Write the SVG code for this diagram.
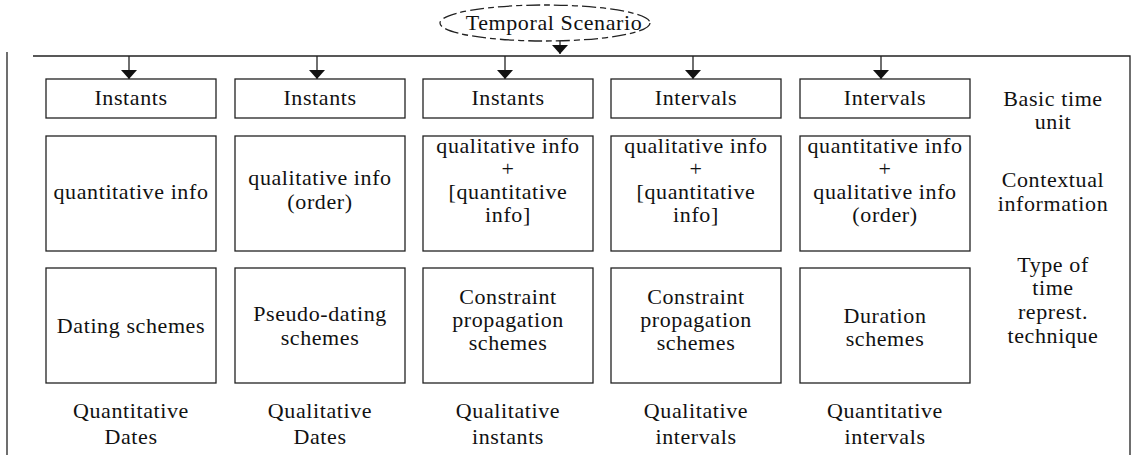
<svg xmlns="http://www.w3.org/2000/svg" width="1137" height="455" viewBox="0 0 1137 455">
<style>
  text { font-family: "Liberation Serif", "DejaVu Serif", "Times New Roman", serif; font-size: 22px; letter-spacing: 0.6px; fill: #111; text-anchor: middle; }
  .box { fill: none; stroke: #222; stroke-width: 1.3; }
  .line { fill: none; stroke: #222; stroke-width: 1.3; }
</style>
<defs>
  <marker id="ah" markerWidth="10" markerHeight="16" refX="9" refY="8" orient="auto" markerUnits="userSpaceOnUse">
    <path d="M0,0 L9,8 L0,16 Z" fill="#111"/>
  </marker>
</defs>
<rect width="1137" height="455" fill="#fff"/>

<g id="frame">
  <path class="line" d="M7,455 V52 M33,56 H1130 V455"/>
</g>

<g id="connectors">
  <line class="line" x1="560" y1="41" x2="560" y2="54" marker-end="url(#ah)"/>
  <line class="line" x1="129" y1="56" x2="129" y2="79" marker-end="url(#ah)"/>
  <line class="line" x1="317" y1="56" x2="317" y2="79" marker-end="url(#ah)"/>
  <line class="line" x1="505" y1="56" x2="505" y2="79" marker-end="url(#ah)"/>
  <line class="line" x1="693" y1="56" x2="693" y2="79" marker-end="url(#ah)"/>
  <line class="line" x1="881" y1="56" x2="881" y2="79" marker-end="url(#ah)"/>
</g>

<g id="temporal-scenario">
  <ellipse class="box" cx="545" cy="23" rx="105" ry="18" stroke-dasharray="14 4 6 4"/>
  <text x="554" y="30">Temporal Scenario</text>
</g>

<!-- Row 1: basic time unit -->
<g id="unit-1"><rect class="box" x="46" y="79" width="170" height="39"/><text x="131" y="105">Instants</text></g>
<g id="unit-2"><rect class="box" x="235" y="79" width="170" height="39"/><text x="320" y="105">Instants</text></g>
<g id="unit-3"><rect class="box" x="423" y="79" width="170" height="39"/><text x="508" y="105">Instants</text></g>
<g id="unit-4"><rect class="box" x="611" y="79" width="170" height="39"/><text x="696" y="105">Intervals</text></g>
<g id="unit-5"><rect class="box" x="800" y="79" width="170" height="39"/><text x="885" y="105">Intervals</text></g>

<!-- Row 2: contextual information -->
<g id="info-1"><rect class="box" x="46" y="136" width="170" height="115"/><text x="131" y="199">quantitative info</text></g>
<g id="info-2"><rect class="box" x="235" y="136" width="170" height="115"/>
  <text x="320" y="185">qualitative info</text><text x="320" y="209">(order)</text></g>
<g id="info-3"><rect class="box" x="423" y="136" width="170" height="115"/>
  <text x="508" y="153">qualitative info</text><text x="508" y="176">+</text><text x="508" y="199">[quantitative</text><text x="508" y="222">info]</text></g>
<g id="info-4"><rect class="box" x="611" y="136" width="170" height="115"/>
  <text x="696" y="153">qualitative info</text><text x="696" y="176">+</text><text x="696" y="199">[quantitative</text><text x="696" y="222">info]</text></g>
<g id="info-5"><rect class="box" x="800" y="136" width="170" height="115"/>
  <text x="885" y="153">quantitative info</text><text x="885" y="176">+</text><text x="885" y="199">qualitative info</text><text x="885" y="222">(order)</text></g>

<!-- Row 3: technique -->
<g id="tech-1"><rect class="box" x="46" y="268" width="170" height="115"/><text x="131" y="333">Dating schemes</text></g>
<g id="tech-2"><rect class="box" x="235" y="268" width="170" height="115"/>
  <text x="320" y="321">Pseudo-dating</text><text x="320" y="345">schemes</text></g>
<g id="tech-3"><rect class="box" x="423" y="268" width="170" height="115"/>
  <text x="508" y="304">Constraint</text><text x="508" y="327">propagation</text><text x="508" y="350">schemes</text></g>
<g id="tech-4"><rect class="box" x="611" y="268" width="170" height="115"/>
  <text x="696" y="304">Constraint</text><text x="696" y="327">propagation</text><text x="696" y="350">schemes</text></g>
<g id="tech-5"><rect class="box" x="800" y="268" width="170" height="115"/>
  <text x="885" y="323">Duration</text><text x="885" y="346">schemes</text></g>

<!-- Bottom labels -->
<g id="result-1"><text x="131" y="418">Quantitative</text><text x="131" y="444">Dates</text></g>
<g id="result-2"><text x="320" y="418">Qualitative</text><text x="320" y="444">Dates</text></g>
<g id="result-3"><text x="508" y="418">Qualitative</text><text x="508" y="444">instants</text></g>
<g id="result-4"><text x="696" y="418">Qualitative</text><text x="696" y="444">intervals</text></g>
<g id="result-5"><text x="885" y="418">Quantitative</text><text x="885" y="444">intervals</text></g>

<!-- Row labels -->
<g id="label-unit"><text x="1053" y="106">Basic time</text><text x="1053" y="129">unit</text></g>
<g id="label-info"><text x="1053" y="187">Contextual</text><text x="1053" y="211">information</text></g>
<g id="label-tech"><text x="1053" y="272">Type of</text><text x="1053" y="295">time</text><text x="1053" y="319">represt.</text><text x="1053" y="343">technique</text></g>
</svg>
